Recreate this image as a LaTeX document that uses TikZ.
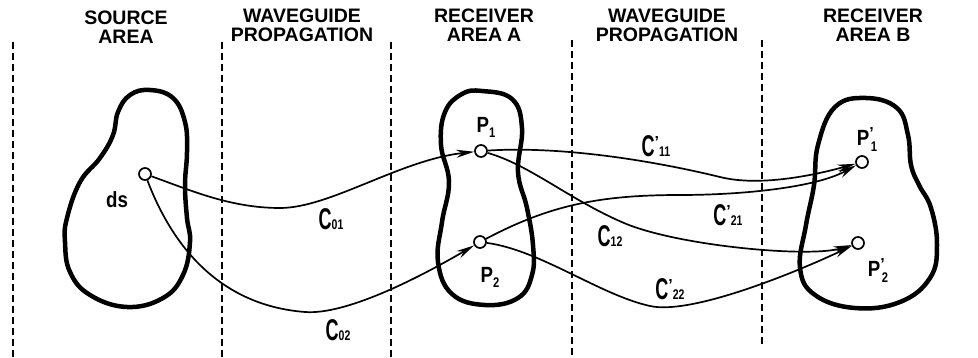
\documentclass[tikz,border=0pt]{standalone}
\usepackage{fontspec}
\setmainfont{Liberation Sans}
\usetikzlibrary{arrows.meta}
\newcommand\hdfont{\fontsize{19.5}{19}\selectfont\bfseries}
\newcommand\Csub[1]{\scalebox{0.6}[1]{\fontsize{30}{30}\selectfont C}\scalebox{0.75}[1]{\fontsize{14}{14}\selectfont #1}}
\newcommand\Cpsub[1]{\scalebox{0.6}[1]{\fontsize{30}{30}\selectfont C}\raisebox{9pt}{\fontsize{16}{16}\selectfont ’}\scalebox{0.75}[1]{\fontsize{14}{14}\selectfont #1}}
\newcommand\Psub[1]{\scalebox{0.85}[1]{\fontsize{22}{22}\selectfont P}\raisebox{-5pt}{\scalebox{0.8}[1]{\fontsize{14}{14}\selectfont #1}}}
\newcommand\Ppsub[1]{\scalebox{0.85}[1]{\fontsize{22}{22}\selectfont P}\raisebox{7pt}{\fontsize{16}{16}\selectfont ’}\hspace{-3pt}\raisebox{-6pt}{\scalebox{0.8}[1]{\fontsize{14}{14}\selectfont #1}}}
\begin{document}
\begin{tikzpicture}[x=1pt,y=-1pt,
  blob/.style={line width=4.5pt, line join=round},
  divider/.style={line width=2pt, dash pattern=on 7pt off 4pt},
  port/.style={circle, draw, line width=1.7pt, minimum size=12pt, inner sep=0pt},
  wave/.style={line width=1.7pt, -{Stealth[length=18pt,width=8pt]}},
  head/.style={align=center, font=\hdfont, inner sep=0pt, anchor=north},
  lab/.style={inner sep=0pt, font=\bfseries}
]
\useasboundingbox (0,0) rectangle (978,358);

% dividers
\draw[divider] (13,42) -- (13,358);
\draw[divider] (222,42) -- (222,358);
\draw[divider] (391,42) -- (391,358);
\draw[divider] (572,40) -- (572,358);
\draw[divider] (762,40) -- (762,346);

% headings
\node[head] (hs) at (126,11) {SOURCE\\AREA};
\node[head] (hw1) at (302,9) {WAVEGUIDE\\PROPAGATION};
\node[head] (hra) at (484,9) {RECEIVER\\AREA\hspace{5pt}A};
\node[head] (hw2) at (667,9) {WAVEGUIDE\\PROPAGATION};
\node[head] (hrb) at (873,9) {RECEIVER\\AREA B};

% areas
\draw[blob] plot[smooth cycle, tension=0.7] coordinates {
  (150,90) (173,98) (185,122) (187,152) (185,185) (187,218) (190,242)
  (183,275) (163,298) (127,307) (90,295) (70,272) (65,242) (67,218)
  (80,182) (100,158) (113,135) (118,112) (130,95)};
\draw[blob] plot[smooth cycle, tension=0.7] coordinates {
  (482,91) (512,99) (522,128) (518,172) (527,208) (533,245) (532,275)
  (518,298) (485,305) (452,294) (438,262) (442,222) (449,182) (441,145)
  (445,112) (462,94)};
\draw[blob] plot[smooth cycle, tension=0.7] coordinates {
  (866,98) (897,108) (908,135) (911,165) (919,185) (931,208) (937,245)
  (930,278) (900,302) (855,308) (815,295) (800,268) (806,225) (814,185)
  (818,145) (835,107)};

% points
\node[port] (ds) at (145,174) {};
\node[port] (P1) at (481,151) {};
\node[port] (P2) at (480,242) {};
\node[port] (Q1) at (862,162) {};
\node[port] (Q2) at (858,243) {};

% connectors
\draw[wave] (ds) .. controls (190,190) and (230,208) .. (280,208)
  .. controls (330,208) and (400,160) .. (P1);
\draw[wave] (ds) .. controls (170,240) and (215,305) .. (305,312)
  .. controls (345,315) and (415,280) .. (P2);
\draw[wave] (P1) .. controls (560,146) and (650,160) .. (720,177)
  .. controls (760,187) and (815,175) .. (Q1);
\draw[wave] (P1) .. controls (530,165) and (570,200) .. (624,223)
  .. controls (678,246) and (810,258) .. (Q2);
\draw[wave] (P2) .. controls (550,205) and (600,195) .. (680,195)
  .. controls (740,195) and (815,188) .. (Q1);
\draw[wave] (P2) .. controls (540,250) and (600,295) .. (650,306)
  .. controls (690,315) and (790,275) .. (Q2);

% labels
\node[lab] (lds) at (117,200) {\scalebox{0.85}[1]{\fontsize{22}{22}\selectfont ds}};
\node[lab] (lP1) at (486,127) {\Psub{1}};
\node[lab] (lP2) at (490,277) {\Psub{2}};
\node[lab] (lQ1) at (867,139) {\Ppsub{1}};
\node[lab] (lQ2) at (878,270) {\Ppsub{2}};
\node[lab] (c01) at (331,219) {\Csub{01}};
\node[lab] (c02) at (338,330) {\Csub{02}};
\node[lab] (c11) at (656,146) {\Cpsub{11}};
\node[lab] (c21) at (728,215) {\Cpsub{21}};
\node[lab] (c12) at (610,236) {\Csub{12}};
\node[lab] (c22) at (670,289) {\Cpsub{22}};
\end{tikzpicture}
\end{document}
